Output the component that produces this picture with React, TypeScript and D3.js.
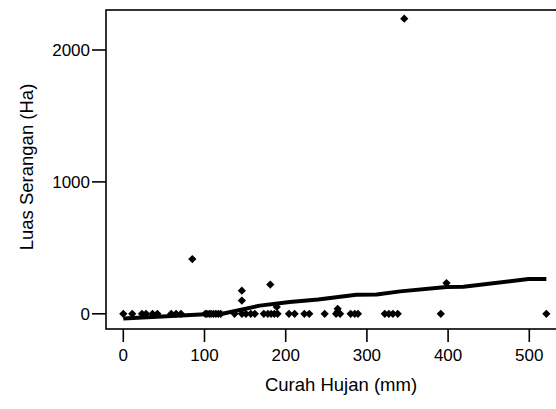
import React from "react";
import * as d3 from "d3";

// rainfall (mm) and attacked area (Ha)
const rainfall = [
  0, 11, 23, 28, 36, 42, 59, 65, 71, 101, 103, 106, 108, 111, 114, 117, 120,
  137, 146, 151, 157, 162, 173, 178, 182, 186, 190, 204, 211, 223, 229, 248,
  262, 267, 280, 285, 289, 322, 327, 332, 338, 391, 521,
  85, 146, 146, 181, 189, 264, 264, 346, 398,
];
const area = [
  0, 0, 0, 0, 0, 0, 0, 0, 0, 0, 0, 0, 0, 0, 0, 0, 0,
  0, 0, 0, 0, 0, 0, 0, 0, 0, 0, 0, 0, 0, 0, 0,
  0, 0, 0, 0, 0, 0, 0, 0, 0, 0, 0,
  415, 100, 175, 222, 52, 38, 15, 2237, 233,
];

// smoothed fit line
const fitX = [0, 101, 122, 168, 205, 240, 287, 312, 341, 398, 419, 499, 521];
const fitY = [-36, -4, 0, 62, 90, 108, 145, 147, 170, 203, 205, 264, 264];

const xTicks = [0, 100, 200, 300, 400, 500];
const yTicks = [0, 1000, 2000];

const W = 556;
const H = 409;
const font = "Liberation Sans, Arial, sans-serif";

export default function App() {
  const x = d3.scaleLinear().domain([0, 500]).range([123.3, 529.3]);
  const y = d3.scaleLinear().domain([0, 2000]).range([313.8, 50]);

  const frame = { left: 106, top: 10, bottom: 329, right: 562 };

  const line = d3
    .line<number>()
    .x((d) => x(d))
    .y((d, i) => y(fitY[i]));

  const diamond = d3.symbol().type(d3.symbolSquare).size(34)();

  return (
    <svg
      width={W}
      height={H}
      style={{ position: "absolute", left: 0, top: 0, background: "#fff" }}
    >
      <rect
        x={frame.left}
        y={frame.top}
        width={frame.right - frame.left}
        height={frame.bottom - frame.top}
        fill="none"
        stroke="#000"
        strokeWidth={1.6}
      />

      {rainfall.map((r, i) => (
        <path
          key={i}
          d={diamond || ""}
          transform={`translate(${x(r)},${y(area[i])}) rotate(45)`}
          fill="#000"
        />
      ))}

      <path
        d={line(fitX) || ""}
        fill="none"
        stroke="#000"
        strokeWidth={4}
        strokeLinejoin="round"
      />

      {xTicks.map((t) => (
        <g key={t}>
          <line x1={x(t)} x2={x(t)} y1={frame.bottom} y2={frame.bottom + 13} stroke="#000" strokeWidth={1.6} />
          <text
            x={x(t)}
            y={frame.bottom + 32}
            textAnchor="middle"
            fontFamily={font}
            fontSize={17}
          >
            {t}
          </text>
        </g>
      ))}

      {yTicks.map((t) => (
        <g key={t}>
          <line x1={frame.left - 14} x2={frame.left} y1={y(t)} y2={y(t)} stroke="#000" strokeWidth={1.6} />
          <text
            x={frame.left - 16}
            y={y(t)}
            dy="0.35em"
            textAnchor="end"
            fontFamily={font}
            fontSize={17}
          >
            {t}
          </text>
        </g>
      ))}

      <text
        x={341}
        y={391}
        textAnchor="middle"
        fontFamily={font}
        fontSize={18.5}
      >
        Curah Hujan (mm)
      </text>
      <text
        transform={`translate(33,167) rotate(-90)`}
        textAnchor="middle"
        fontFamily={font}
        fontSize={18.5}
      >
        Luas Serangan (Ha)
      </text>
    </svg>
  );
}
